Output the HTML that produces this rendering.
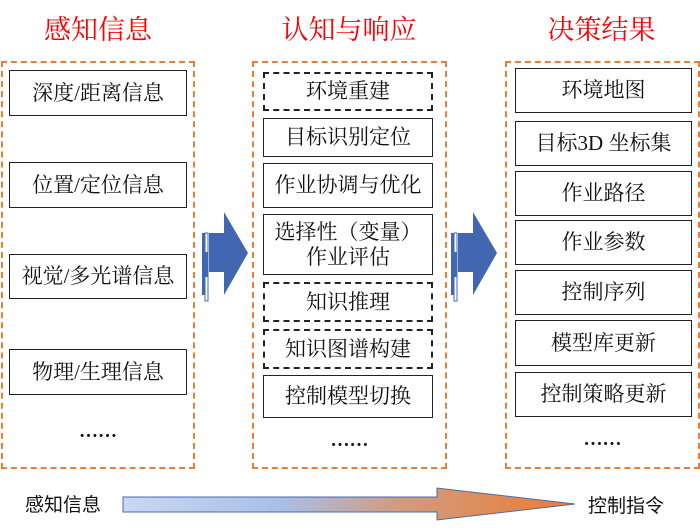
<!DOCTYPE html>
<html><head><meta charset="utf-8"><style>
body{margin:0;width:700px;height:531px;background:#fff;position:relative;overflow:hidden;font-family:"Liberation Serif","Noto Serif CJK SC",serif;}
.t{position:absolute;color:#f00;font-size:27px;text-align:center;line-height:30px;}
.col{position:absolute;border:2px dashed #ed7d31;box-sizing:border-box;}
.b{position:absolute;border:1.5px solid #222;box-sizing:border-box;display:flex;align-items:center;justify-content:center;text-align:center;font-size:21px;line-height:25px;color:#111;background:#fff;}
.d{border:2px dashed #222;}
.dots{position:absolute;font-size:19px;font-weight:bold;color:#111;text-align:center;}
</style></head><body>
<div class="t" style="left:0;width:196px;top:15px">感知信息</div>
<div class="t" style="left:250px;width:198px;top:15px">认知与响应</div>
<div class="t" style="left:503px;width:197px;top:15px">决策结果</div>

<div class="col" style="left:1px;top:61px;width:194px;height:408px"></div>
<div class="col" style="left:252px;top:61px;width:195px;height:408px"></div>
<div class="col" style="left:505px;top:61px;width:195px;height:408px"></div>

<div class="b" style="left:9px;top:70px;width:178px;height:46px">深度/距离信息</div>
<div class="b" style="left:9px;top:162px;width:178px;height:46px">位置/定位信息</div>
<div class="b" style="left:9px;top:254px;width:178px;height:45px">视觉/多光谱信息</div>
<div class="b" style="left:9px;top:349px;width:178px;height:46px">物理/生理信息</div>
<div class="dots" style="left:0;width:196px;top:421px">……</div>

<div class="b d" style="left:263px;top:72px;width:170px;height:39px">环境重建</div>
<div class="b" style="left:263px;top:118px;width:170px;height:39px">目标识别定位</div>
<div class="b" style="left:263px;top:163px;width:170px;height:45px">作业协调与优化</div>
<div class="b" style="left:263px;top:214px;width:170px;height:61px">选择性（变量）<br>作业评估</div>
<div class="b d" style="left:263px;top:282px;width:170px;height:40px">知识推理</div>
<div class="b d" style="left:263px;top:329px;width:170px;height:40px">知识图谱构建</div>
<div class="b" style="left:263px;top:375px;width:170px;height:43px">控制模型切换</div>
<div class="dots" style="left:252px;width:195px;top:430px">……</div>

<div class="b" style="left:515px;top:68px;width:177px;height:45px">环境地图</div>
<div class="b" style="left:515px;top:121px;width:177px;height:45px">目标3D 坐标集</div>
<div class="b" style="left:515px;top:171px;width:177px;height:45px">作业路径</div>
<div class="b" style="left:515px;top:220px;width:177px;height:45px">作业参数</div>
<div class="b" style="left:515px;top:270px;width:177px;height:45px">控制序列</div>
<div class="b" style="left:515px;top:320px;width:177px;height:46px">模型库更新</div>
<div class="b" style="left:515px;top:372px;width:177px;height:45px">控制策略更新</div>
<div class="dots" style="left:505px;width:195px;top:429px">……</div>

<svg style="position:absolute;left:0;top:0" width="700" height="531">
<defs><linearGradient id="g" x1="0" x2="1"><stop offset="0" stop-color="#c9d8f0"/><stop offset="0.35" stop-color="#a9bfe6"/><stop offset="0.6" stop-color="#d09c84"/><stop offset="1" stop-color="#ed7d31"/></linearGradient></defs>
<g fill="#4067b0">
<rect x="202" y="233" width="3" height="62"/><rect x="205" y="233" width="3" height="68" fill="#fff" stroke="#4067b0" stroke-width="1"/>
<rect x="204" y="252" width="4" height="25"/>
<polygon points="209,233 224,233 224,212 248,253 224,295 224,272 209,272"/>
<rect x="451" y="233" width="3" height="62"/><rect x="454" y="233" width="3" height="68" fill="#fff" stroke="#4067b0" stroke-width="1"/>
<rect x="453" y="252" width="4" height="25"/>
<polygon points="458,233 473,233 473,212 497,253 473,295 473,272 458,272"/>
</g>
<polygon points="123,497 437,497 437,488 575,504 437,520 437,512 123,512" fill="url(#g)" stroke="#4a6aa8" stroke-width="1"/>
<text x="25" y="511" font-size="19" fill="#111" font-family="Liberation Sans, Noto Sans CJK SC, sans-serif">感知信息</text>
<text x="588" y="512" font-size="19" fill="#111" font-family="Liberation Sans, Noto Sans CJK SC, sans-serif">控制指令</text>
</svg>
</body></html>
